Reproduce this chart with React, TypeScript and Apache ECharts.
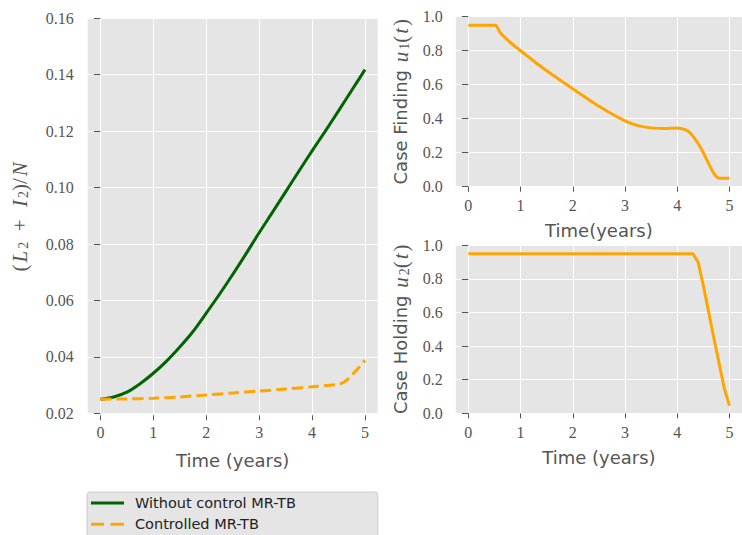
import React, { useEffect, useRef } from "react";
import * as echarts from "echarts";

// ---- Data ----
const T_LEFT = [0, 0.25, 0.5, 0.75, 1, 1.25, 1.5, 1.75, 2, 2.25, 2.5, 2.75, 3, 3.25, 3.5, 3.75, 4, 4.25, 4.5, 4.75, 5];
const WITHOUT_CONTROL = [0.025, 0.0258, 0.0275, 0.0305, 0.0342, 0.0385, 0.0435, 0.049, 0.0555, 0.0622, 0.0692, 0.0765, 0.084, 0.0912, 0.0985, 0.1058, 0.113, 0.12, 0.1272, 0.1345, 0.1418];
const T_CONTROLLED = [0, 0.5, 1, 1.5, 2, 2.5, 3, 3.5, 4, 4.5, 4.6, 4.7, 4.8, 4.9, 5];
const CONTROLLED = [0.025, 0.0251, 0.0253, 0.0258, 0.0265, 0.0272, 0.0279, 0.0286, 0.0294, 0.0303, 0.031, 0.0325, 0.0345, 0.0365, 0.0388];

const T_U1 = [0, 0.52, 0.6, 0.75, 1, 1.5, 2, 2.5, 3, 3.25, 3.5, 3.75, 4, 4.15, 4.25, 4.4, 4.5, 4.6, 4.7, 4.8, 5];
const U1 = [0.95, 0.95, 0.91, 0.863, 0.8, 0.682, 0.576, 0.473, 0.387, 0.359, 0.346, 0.342, 0.346, 0.336, 0.316, 0.254, 0.2, 0.137, 0.078, 0.05, 0.05];

const T_U2 = [0, 4.3, 4.4, 4.5, 4.6, 4.7, 4.8, 4.9, 5];
const U2 = [0.95, 0.95, 0.9, 0.76, 0.605, 0.45, 0.3, 0.15, 0.045];

const X_TICKS = [0, 1, 2, 3, 4, 5];
const SERIES_NAMES = ["Without control MR-TB", "Controlled MR-TB"];

const zip = (xs: number[], ys: number[]) => xs.map((x, i) => [x, ys[i]]);

const GREY = "#555555";
const SERIF = "Liberation Serif";
const SANS = "DejaVu Sans";
const NAME_FONT = { fontFamily: SANS, fontSize: 18, color: GREY };
const mathRich = {
  m: { fontFamily: SERIF, fontStyle: "italic", fontSize: 21, color: GREY, lineHeight: 22, verticalAlign: "middle", padding: [0, 2, 0, 2] },
  r: { fontFamily: SERIF, fontSize: 21, color: GREY, lineHeight: 22, verticalAlign: "middle" },
  s: { fontFamily: SERIF, fontSize: 14, color: GREY, lineHeight: 13, verticalAlign: "bottom" },
  t: { fontFamily: SANS, fontSize: 18, color: GREY, lineHeight: 22, verticalAlign: "middle" },
};

function xAxisFor(gridIndex: number, name: string, nameGap: number) {
  return {
    type: "value",
    gridIndex,
    min: -0.24,
    max: 5.24,
    offset: 2,
    name,
    nameLocation: "middle",
    nameGap,
    nameTextStyle: NAME_FONT,
    axisLine: { show: false },
    axisTick: { show: true, length: 5, customValues: X_TICKS, lineStyle: { color: GREY, width: 1 } },
    axisLabel: {
      show: true,
      fontFamily: SERIF,
      fontSize: 16,
      color: GREY,
      margin: 9,
      customValues: X_TICKS,
      formatter: (v: number) => String(v),
    },
    splitLine: { show: true, lineStyle: { color: "#ffffff", width: 1 } },
  };
}

function yAxisFor(gridIndex: number, min: number, max: number, interval: number, digits: number, name: string, nameGap: number, offset: number) {
  return {
    type: "value",
    gridIndex,
    min,
    max,
    interval,
    offset,
    name,
    nameLocation: "middle",
    nameGap,
    nameRotate: 90,
    nameTextStyle: { ...NAME_FONT, rich: mathRich },
    axisLine: { show: false },
    axisTick: { show: true, length: 6.5, lineStyle: { color: GREY, width: 1 } },
    axisLabel: {
      show: true,
      fontFamily: SERIF,
      fontSize: 16,
      color: GREY,
      margin: 12,
      formatter: (v: number) => v.toFixed(digits),
    },
    splitLine: { show: true, lineStyle: { color: "#ffffff", width: 1 } },
  };
}

export default function App() {
  const ref = useRef<HTMLDivElement>(null);
  useEffect(() => {
    if (!ref.current) return;
    const chart = echarts.init(ref.current, undefined, { renderer: "svg" });
    const gridBase = { show: true, backgroundColor: "#E5E5E5", borderWidth: 0, containLabel: false };
    chart.setOption({
      animation: false,
      backgroundColor: "#ffffff",
      textStyle: { fontFamily: SERIF },
      grid: [
        { ...gridBase, left: 87.7, top: 18.3, width: 290, height: 395 },
        { ...gridBase, left: 455.8, top: 16.7, width: 289.1, height: 170 },
        { ...gridBase, left: 455.8, top: 245.3, width: 289.1, height: 168 },
      ],
      xAxis: [
        xAxisFor(0, "Time (years)", 36),
        xAxisFor(1, "Time(years)", 33),
        xAxisFor(2, "Time (years)", 33),
      ],
      yAxis: [
        yAxisFor(0, 0.02, 0.16, 0.02, 2, "{r|(}{m|L}{s|2}{r|  +  }{m|I}{s|2}{r|)/}{m|N}", 55, 2),
        yAxisFor(1, 0, 1, 0.2, 1, "{t|Case Finding }{m|u}{s|1}{r|(}{m|t}{r|)}", 43, 1),
        yAxisFor(2, 0, 1, 0.2, 1, "{t|Case Holding }{m|u}{s|2}{r|(}{m|t}{r|)}", 43, 1),
      ],
      legend: {
        left: 87,
        top: 492,
        height: 80,
        orient: "vertical",
        data: [
          { name: SERIES_NAMES[0], icon: "path://M0,0H33V3H0Z" },
          { name: SERIES_NAMES[1], icon: "path://M0,0H13V3H0Z M19.5,0H33V3H19.5Z" },
        ],
        backgroundColor: "#E5E5E5",
        borderColor: "#CCCCCC",
        borderWidth: 1,
        borderRadius: 3,
        padding: [3.5, 82, 8, 4],
        itemWidth: 33,
        itemHeight: 3,
        itemGap: 6.3,
        textStyle: { fontFamily: SANS, fontSize: 14.5, color: "#222222", lineHeight: 15, padding: [0, 0, 0, 6] },
      },
      series: [
        {
          name: SERIES_NAMES[0],
          type: "line",
          xAxisIndex: 0,
          yAxisIndex: 0,
          data: zip(T_LEFT, WITHOUT_CONTROL),
          showSymbol: false,
          symbol: "none",
          smooth: 0.3,
          lineStyle: { color: "#006400", width: 3 },
          itemStyle: { color: "#006400" },
        },
        {
          name: SERIES_NAMES[1],
          type: "line",
          xAxisIndex: 0,
          yAxisIndex: 0,
          data: zip(T_CONTROLLED, CONTROLLED),
          showSymbol: false,
          symbol: "none",
          smooth: 0.3,
          lineStyle: { color: "#FFA500", width: 3, type: [11, 5] },
          itemStyle: { color: "#FFA500" },
        },
        {
          name: "u1",
          type: "line",
          xAxisIndex: 1,
          yAxisIndex: 1,
          data: zip(T_U1, U1),
          showSymbol: false,
          symbol: "none",
          smooth: 0.2,
          lineStyle: { color: "#FFA500", width: 3 },
          itemStyle: { color: "#FFA500" },
        },
        {
          name: "u2",
          type: "line",
          xAxisIndex: 2,
          yAxisIndex: 2,
          data: zip(T_U2, U2),
          showSymbol: false,
          symbol: "none",
          lineStyle: { color: "#FFA500", width: 3 },
          itemStyle: { color: "#FFA500" },
        },
      ],
    });
    return () => chart.dispose();
  }, []);
  return <div ref={ref} style={{ position: "fixed", left: 0, top: 0, width: 742, height: 535 }} />;
}
